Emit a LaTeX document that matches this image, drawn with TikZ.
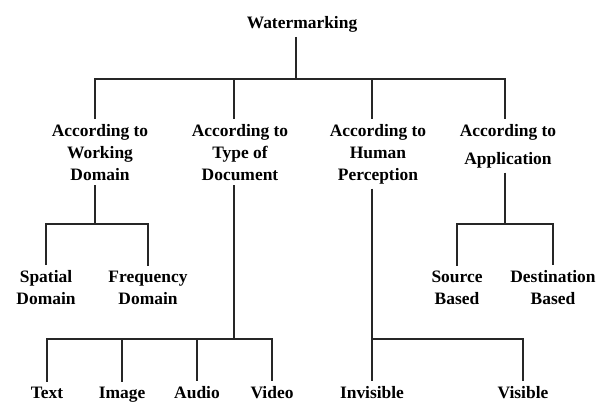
\documentclass[tikz,border=0pt]{standalone}
\usepackage{fontspec}
\setmainfont{Liberation Serif}
\tikzset{
  lbl/.style={font=\fontsize{12.4}{15.6}\selectfont\bfseries, align=center, anchor=base},
  branch/.style={line width=0.9pt, black!85}
}
\begin{document}
\begin{tikzpicture}[x=0.025cm,y=-0.025cm]
  \def\ya{79}\def\yb{224}\def\yc{339}
  \useasboundingbox (0,0) rectangle (602,401);

  % root
  \node[lbl] (root) at (302,28) {Watermarking};

  % first level (base = last line)
  \node[lbl] (wd) at (100,180) {According to\\Working\\Domain};
  \node[lbl] (td) at (240,180) {According to\\Type of\\Document};
  \node[lbl] (hp) at (378,180) {According to\\Human\\Perception};
  \node[lbl, font=\fontsize{12.4}{19.8}\selectfont\bfseries] (ap) at (508,164) {According to\\Application};

  % leaves
  \node[lbl] (sd) at (46,304) {Spatial\\Domain};
  \node[lbl] (fd) at (148,304) {Frequency\\Domain};
  \node[lbl] (sb) at (457,304) {Source\\Based};
  \node[lbl] (db) at (553,304) {Destination\\Based};
  \foreach \nm/\x/\txt in {tx/47/Text, im/122/Image, au/197/Audio, vi/272/Video, inv/372/Invisible, vis/523/Visible}
    \node[lbl] (\nm) at (\x,398) {\txt};

  % junctions
  \coordinate (j0) at (296,\ya);
  \coordinate (j1) at (95,\yb);
  \coordinate (j2) at (234,\yc);
  \coordinate (j3) at (372,\yc);
  \coordinate (j4) at (505,\yb);

  % branches
  \draw[branch] (j0 |- root.south) -- (j0);
  \draw[branch] (j1 |- wd.north) -- (j1 |- j0) -- (j4 |- j0) -- (j4 |- ap.north);
  \draw[branch] (j2 |- j0) -- (j2 |- td.north);
  \draw[branch] (j3 |- j0) -- (j3 |- hp.north);

  \draw[branch] (j1 |- wd.south) -- (j1);
  \draw[branch] (sd.north) |- (j1) -| (fd.north);

  \draw[branch] (j2 |- td.south) -- (j2);
  \draw[branch] (tx.north) |- (j2) -| (vi.north);
  \draw[branch] (im.north |- j2) -- (im.north);
  \draw[branch] (au.north |- j2) -- (au.north);

  \draw[branch] (j3 |- hp.south) -- (j3) -- (j3 |- inv.north);
  \draw[branch] (j3) -| (vis.north);

  \draw[branch] (j4 |- ap.south) -- (j4);
  \draw[branch] (sb.north) |- (j4) -| (db.north);
\end{tikzpicture}
\end{document}
